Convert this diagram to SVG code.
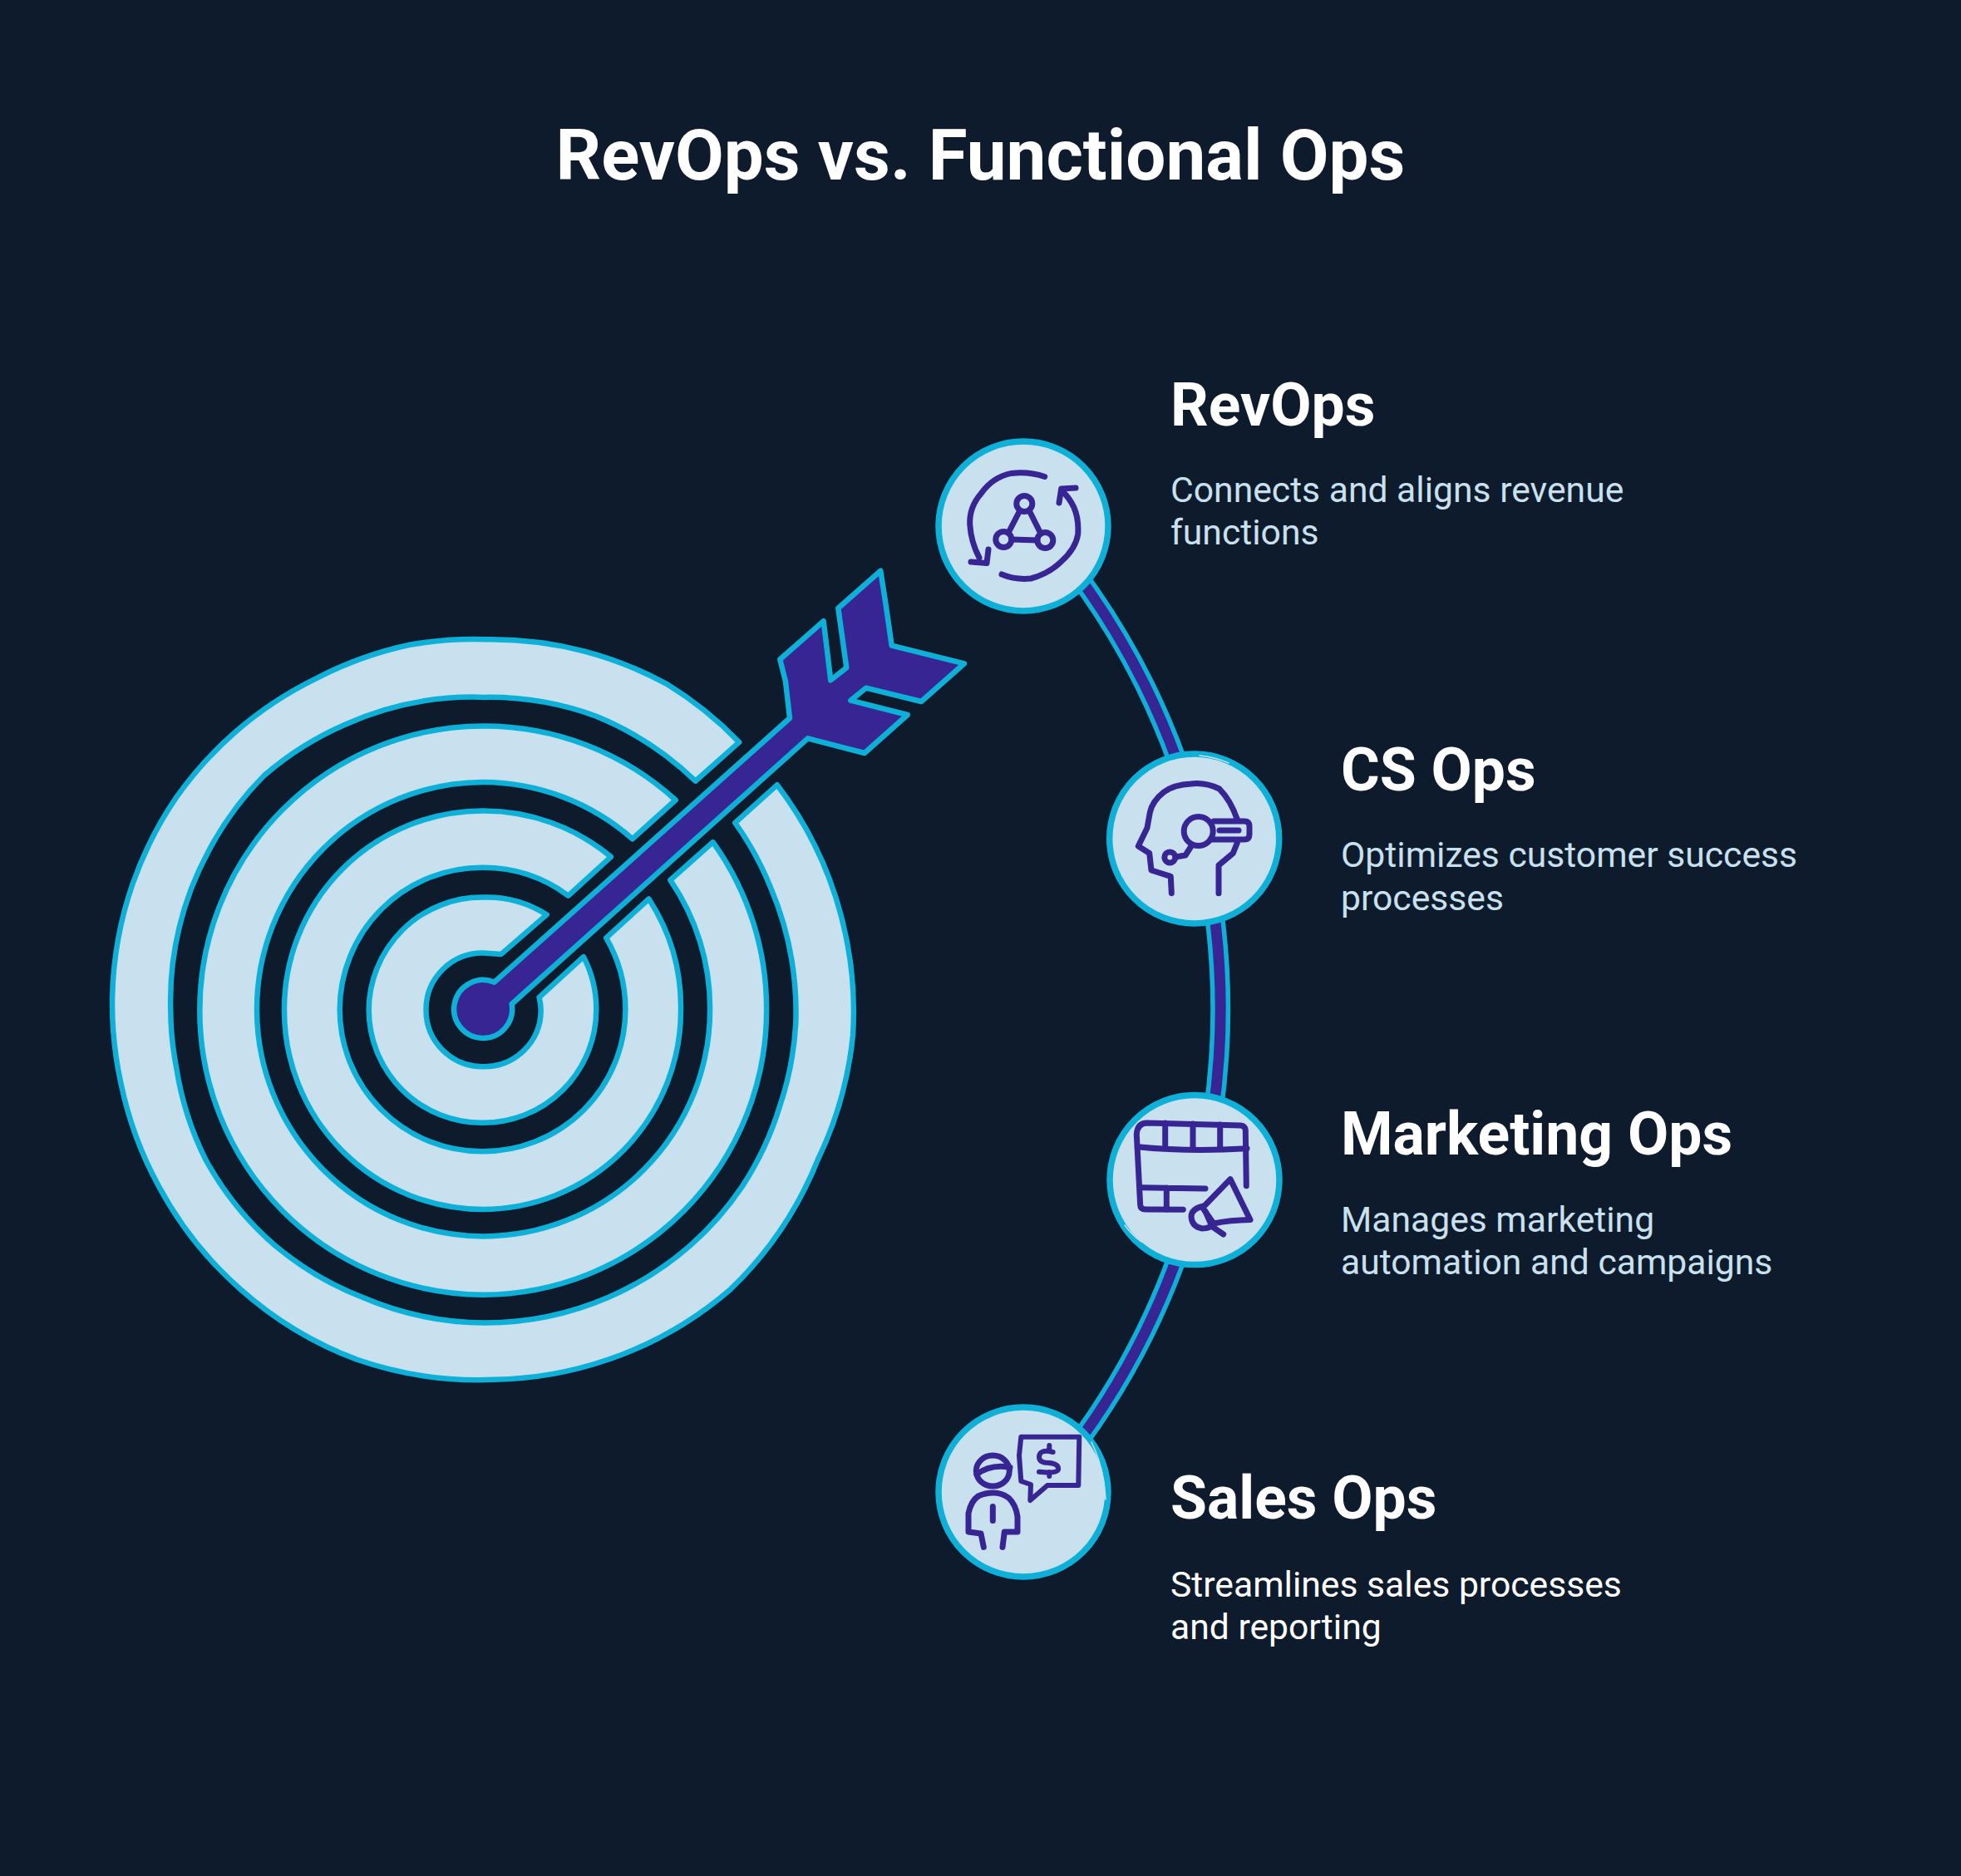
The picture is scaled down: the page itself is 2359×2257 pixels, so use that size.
<svg xmlns="http://www.w3.org/2000/svg" width="2359" height="2257" viewBox="0 0 2359 2257">
<style>
.ring{fill:#c9e1ee;stroke:#0fb0d8;stroke-width:6.5;stroke-linejoin:round}
.arrow{fill:#372593;stroke:#0fb0d8;stroke-width:6.5;stroke-linejoin:round}
.disc{fill:#c9e1ee;stroke:#0fb0d8;stroke-width:7.5}
.ic{fill:none;stroke:#372593;stroke-width:7;stroke-linecap:round;stroke-linejoin:round}
.sl{fill:none;stroke:#c9e1ee;stroke-width:1.5;stroke-linecap:round}
.co{fill:none;stroke:#0fb0d8;stroke-width:24}
.ci{fill:none;stroke:#372593;stroke-width:13}
text{font-family:Roboto,"Liberation Sans",sans-serif}
.t{font-size:85.33px;font-weight:700;fill:#fff;text-anchor:middle}
.h{font-size:71.5px;font-weight:700;fill:#fff}
.d{font-size:42.67px;fill:#c9e1ee}
</style>
<rect width="2359" height="2257" fill="#0e1b2c"/>
<text class="t" x="1179.5" y="216">RevOps vs. Functional Ops</text>
<g id="target">
<path class="ring" d="M889.2,892.9 A446,446 0 0 0 801.5,822.6 A446,446 0 0 0 703.3,783.6 A446,446 0 0 0 584,769.3 A446,446 0 0 0 492.8,775.8 A446,446 0 0 0 380.6,816.1 A446,446 0 0 0 282.4,881.2 A446,446 0 0 0 212.2,959.2 A446,446 0 0 0 159.6,1063.3 A446,446 0 0 0 135.1,1199.9 A446,446 0 0 0 145.6,1304 A446,446 0 0 0 191.2,1427.6 A446,446 0 0 0 289.4,1551.2 A446,446 0 0 0 429.7,1635.8 A446,446 0 0 0 595,1659.8 A446,446 0 0 0 731.4,1635.8 A446,446 0 0 0 878.7,1551.2 A446,446 0 0 0 983.9,1395 A446,446 0 0 0 1026,1245.5 A446,446 0 0 0 1012,1102.3 A446,446 0 0 0 934.8,944.3 L884.3,989.8 A376,376 0 0 1 927.8,1069.8 A376,376 0 0 1 952.3,1154.4 A376,376 0 0 1 957.2,1232.4 A376,376 0 0 1 938.3,1330 A376,376 0 0 1 892.7,1427.6 A376,376 0 0 1 829.6,1499.1 A376,376 0 0 1 731.4,1561 A376,376 0 0 1 584,1591.5 A376,376 0 0 1 436.7,1561 A376,376 0 0 1 331.5,1499.1 A376,376 0 0 1 247.3,1395 A376,376 0 0 1 212.2,1284.5 A376,376 0 0 1 205.2,1212.9 A376,376 0 0 1 215.7,1115.4 A376,376 0 0 1 250.8,1024.3 A376,376 0 0 1 317.5,933.2 A376,376 0 0 1 415.7,871.4 A376,376 0 0 1 584,838.9 A376,376 0 0 1 717.3,861.7 A376,376 0 0 1 836.6,939.7 Z"/>
<path class="ring" d="M812.7,962.5 A342,342 0 0 0 581,873.4 A342,342 0 0 0 240.3,1215.5 A342,342 0 0 0 581,1557.7 A342,342 0 0 0 922.1,1215.5 A342,342 0 0 0 857.6,1013.2 L806.4,1058.8 A273,273 0 0 1 854.1,1214 A273,273 0 0 1 581.5,1487.4 A273,273 0 0 1 309,1214 A273,273 0 0 1 581.5,941 A273,273 0 0 1 760.8,1009.3 Z"/>
<path class="ring" d="M734.9,1030.8 A239,239 0 0 0 580.5,975.5 A239,239 0 0 0 342,1215 A239,239 0 0 0 580.5,1454.9 A239,239 0 0 0 819,1215 A239,239 0 0 0 780.5,1081.5 L729.2,1128.4 A171,171 0 0 1 752.4,1214.5 A171,171 0 0 1 580.5,1385.3 A171,171 0 0 1 408.7,1214.5 A171,171 0 0 1 580.5,1043.8 A171,171 0 0 1 683.6,1077.6 Z"/>
<path class="ring" d="M657.7,1100.4 A136,136 0 0 0 580.5,1079.6 A136,136 0 0 0 443.7,1215 A136,136 0 0 0 580.5,1350.8 A136,136 0 0 0 717.3,1215 A136,136 0 0 0 701.9,1151.1 L648.6,1199.9 A68,68 0 0 1 650.7,1215 A68,68 0 0 1 581.6,1283.2 A68,68 0 0 1 512.5,1215 A68,68 0 0 1 581.6,1146.6 L603,1147.9 Z"/>
</g>
<g id="arrow">
<path class="arrow" d="M1059.3,686.7 L1066,730 L1072.7,776.7 L1160,798.3 L1108.3,844 L1041.7,827.7 L1023.3,842.7 L1091.7,860 L1040,906 L971.7,888.3 L615.6,1208 A35,35 0 1 1 594.6,1181.7 L950,864 L945,820 L938.3,793.3 L990.7,747.3 L999.3,818.3 L1018.3,803.3 L1008.3,731.7 Z"/>
</g>
<g id="connectors">
<path class="co" d="M1270,658 A880,880 0 0 1 1444,1009"/><path class="ci" d="M1270,658 A880,880 0 0 1 1444,1009"/>
<path class="co" d="M1444,1009 A880,880 0 0 1 1444,1419"/><path class="ci" d="M1444,1009 A880,880 0 0 1 1444,1419"/>
<path class="co" d="M1444,1419 A880,880 0 0 1 1270,1770"/><path class="ci" d="M1444,1419 A880,880 0 0 1 1270,1770"/>
</g>
<g id="node-revops">
<circle class="disc" cx="1231" cy="633" r="102"/>
<path class="ic" d="M1256.7,573.5 Q1238,567 1216.7,569.4 Q1194,574 1180,594 Q1166,610 1166.7,630.6 Q1168,652 1178,671"/>
<path class="ic" d="M1168,676 L1187,677.6 L1189,661"/>
<path class="ic" d="M1205,691 Q1222,698 1240,696 Q1262,690 1276.7,675.5 Q1294,660 1296.7,643 Q1298,624 1291.7,610 Q1286,598 1276.7,590"/>
<path class="ic" d="M1274,605 L1276.7,588 L1294,587"/>
<circle class="ic" cx="1232.3" cy="606" r="9.5"/><circle class="ic" cx="1207.3" cy="649" r="9.5"/><circle class="ic" cx="1257.3" cy="650" r="9.5"/>
<path class="ic" d="M1227,614 L1213,641 M1238,614 L1252,642 M1217,649 L1248,650"/>
<text class="h" x="1408" y="512">RevOps</text>
<text class="d" x="1408" y="603.5">Connects and aligns revenue</text>
<text class="d" x="1408" y="655">functions</text>
</g>
<g id="node-cs">
<circle class="disc" cx="1436.7" cy="1009" r="102"/>
<path class="sl" d="M1443,909 Q1462,911 1478,918"/>
<path class="ic" d="M1488.3,985.7 Q1480,962 1466.7,949 Q1450,941 1433,943 Q1412,944 1400,953 Q1386,964 1383.3,977.6 L1380,996 L1369.3,1018 L1382.7,1026.5 L1385,1047 L1408.3,1054.3 L1409.3,1074.7"/>
<path class="ic" d="M1466,1074.7 L1466,1041 L1483.3,1026.5 L1488.3,1014"/>
<circle class="ic" cx="1441.7" cy="1000" r="17.5"/>
<path class="ic" d="M1460,988 L1497,988 Q1503,988 1503,994 L1503,1004 Q1503,1010 1497,1010 L1456,1010"/>
<path class="ic" d="M1467,999 L1490,999"/>
<circle class="ic" cx="1407.3" cy="1031.4" r="6.5"/>
<path class="ic" d="M1414,1031 L1426,1029 L1433,1018"/>
<text class="h" x="1613" y="951">CS Ops</text>
<text class="d" x="1613" y="1043">Optimizes customer success</text>
<text class="d" x="1613" y="1095">processes</text>
</g>
<g id="node-marketing">
<circle class="disc" cx="1437" cy="1419.6" r="102"/>
<path class="sl" d="M1353,1474 Q1362,1486 1373,1494"/>
<path class="ic" d="M1499.3,1426.7 L1498.3,1360 Q1498,1354.5 1492,1354 L1380,1351 Q1368,1351 1367.3,1365 L1371.7,1450 Q1372,1455 1378,1455 L1423.3,1455.3"/>
<path class="ic" d="M1368.3,1379.8 Q1430,1386 1500,1381.8 M1401.7,1351 L1401.7,1380 M1435,1352 L1435,1382 M1467.7,1353 L1467.7,1382 M1373.3,1428.8 L1450,1430 M1403.3,1429 L1403.3,1455"/>
<path class="ic" d="M1480,1418.6 L1504,1467.6 Q1480,1468 1460,1472 L1446.7,1453 Z"/>
<path class="ic" d="M1448,1451 Q1433,1454 1433,1464 Q1434,1476 1446,1478 Q1456,1478 1460,1472 M1450,1457.3 L1458,1475.7 L1471.7,1485"/>
<text class="h" x="1613" y="1389">Marketing Ops</text>
<text class="d" x="1613" y="1482">Manages marketing</text>
<text class="d" x="1613" y="1533">automation and campaigns</text>
</g>
<g id="node-sales">
<circle class="disc" cx="1231" cy="1795" r="102"/>
<path class="sl" d="M1313,1735 Q1328,1765 1330,1804"/>
<path class="ic" d="M1228.3,1728.8 L1298.3,1728.8 L1297.3,1787 L1260,1787 L1239.3,1805 L1240,1786 L1228.3,1782 L1226,1751 Z" style="stroke-width:6"/>
<path class="ic" d="M1266.7,1747 Q1250,1743 1250,1753 Q1250,1760 1262,1760 Q1274,1761 1273,1768 Q1272,1773 1250,1770.8 M1262.3,1739 L1262.3,1746 M1262.3,1771 L1262.3,1776" style="stroke-width:6"/>
<ellipse class="ic" cx="1194.3" cy="1769.6" rx="20" ry="18.5"/>
<path class="ic" d="M1175,1773.7 Q1192,1761 1215,1765.5"/>
<path class="ic" d="M1183.3,1861.4 L1180,1845 L1165,1843 L1165,1820.6 Q1168,1806 1176.7,1800 Q1185,1796 1195,1796 Q1205,1796 1213.3,1802 Q1222,1810 1224,1824.7 L1224,1843 L1208.3,1843 L1206,1861.4 M1194.3,1812.4 L1194.3,1829.6"/>
<text class="h" x="1408" y="1827">Sales Ops</text>
<text class="d" x="1408" y="1921" style="fill:#fff">Streamlines sales processes</text>
<text class="d" x="1408" y="1972" style="fill:#fff">and reporting</text>
</g>
</svg>
